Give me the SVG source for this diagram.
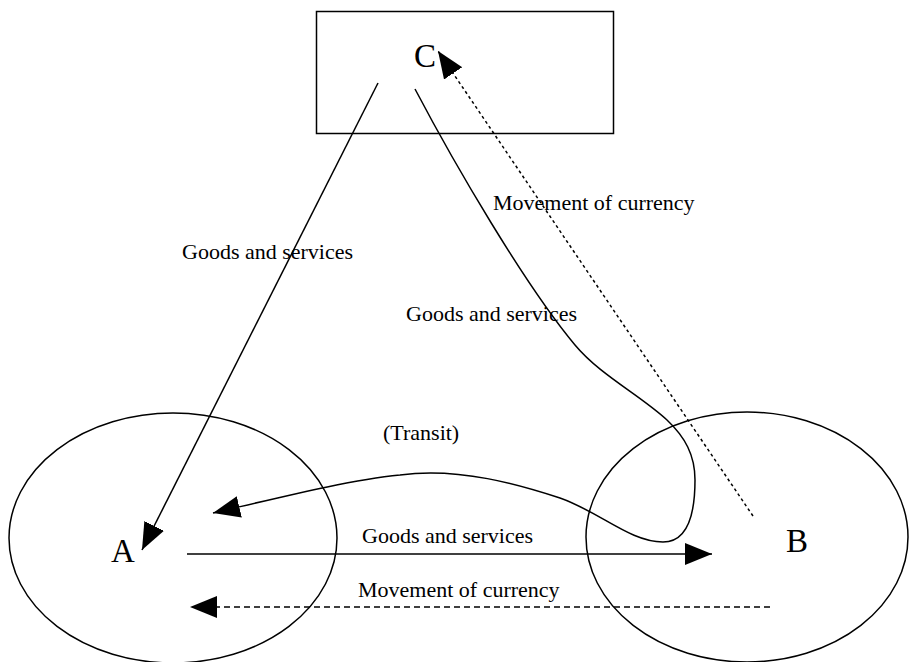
<svg xmlns="http://www.w3.org/2000/svg" width="909" height="662" viewBox="0 0 909 662">
<style>
.shape{fill:none;stroke:#000;stroke-width:1.5}
.ln{fill:none;stroke:#000;stroke-width:1.5}
.dot{fill:none;stroke:#000;stroke-width:1.5;stroke-dasharray:3 3}
.dash{fill:none;stroke:#000;stroke-width:1.5;stroke-dasharray:6 4}
.big{font-family:"Liberation Serif","Times New Roman",serif;font-size:33px;fill:#000}
.lbl{font-family:"Liberation Serif","Times New Roman",serif;font-size:22px;fill:#000}
</style>
<defs>
<marker id="ah" markerUnits="userSpaceOnUse" markerWidth="28" markerHeight="23" refX="27" refY="11" orient="auto">
<path d="M0,0 L27,11 L0,22 z" fill="#000"/>
</marker>
</defs>
<rect width="909" height="662" fill="#fff"/>
<g id="nodeC">
<rect class="shape" x="316.5" y="11.5" width="297" height="122"/>
<text class="big" x="414" y="67">C</text>
</g>
<g id="nodeA">
<ellipse class="shape" cx="173" cy="538" rx="164" ry="125"/>
<text class="big" x="111" y="562">A</text>
</g>
<g id="nodeB">
<ellipse class="shape" cx="747" cy="537" rx="161" ry="125"/>
<text class="big" x="786" y="552">B</text>
</g>
<g id="connectors">
<path class="ln" d="M378,83 L142,550" marker-end="url(#ah)"/>
<path class="dot" d="M753,516 L438,51" marker-end="url(#ah)"/>
<path class="ln" d="M415,89 C455,165 525,285 575,345 C600,375 640,395 667,420 C685,437 695,455 695,480 C695,520 685,542 663,542 C630,542 600,512 560,498 C520,485 460,467 400,475 C350,480 290,495 213,513" marker-end="url(#ah)"/>
<path class="ln" d="M187,554 L712,554" marker-end="url(#ah)"/>
<path class="dash" d="M770,607 L190,607" marker-end="url(#ah)"/>
</g>
<g id="labels">
<text class="lbl" x="182" y="259">Goods and services</text>
<text class="lbl" x="406" y="321">Goods and services</text>
<text class="lbl" x="493" y="210">Movement of currency</text>
<text class="lbl" x="383" y="440">(Transit)</text>
<text class="lbl" x="362" y="543">Goods and services</text>
<text class="lbl" x="358" y="597">Movement of currency</text>
</g>
</svg>
